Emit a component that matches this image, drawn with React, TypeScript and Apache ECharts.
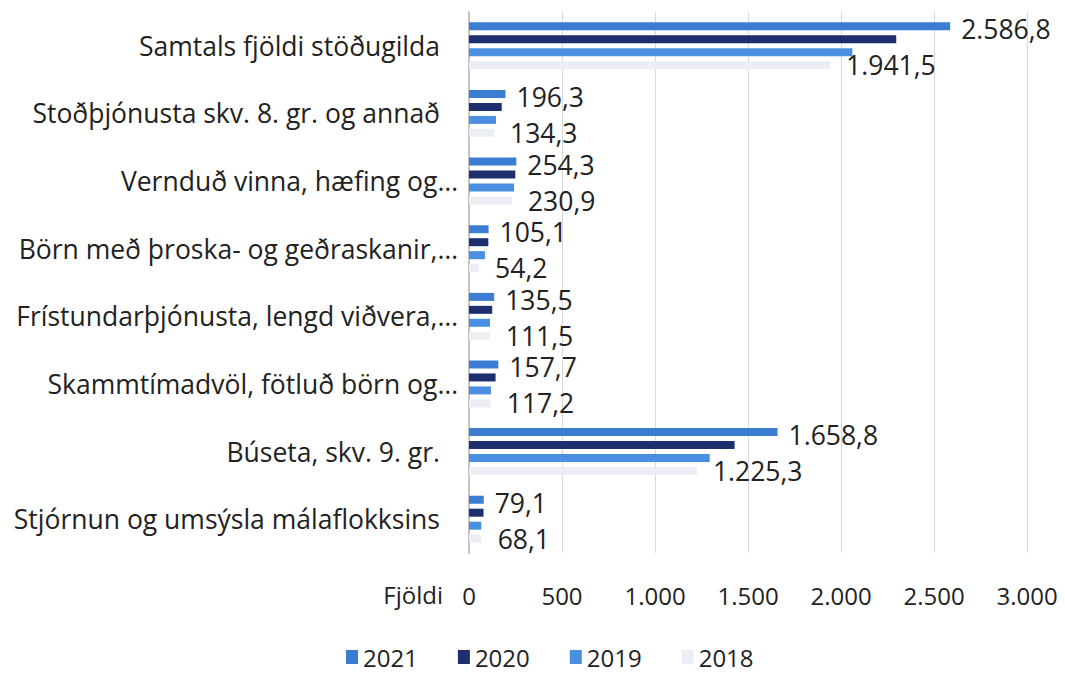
import React, { useEffect, useRef } from "react";
import * as echarts from "echarts";

const categories = [
  "Samtals fjöldi stöðugilda",
  "Stoðþjónusta skv. 8. gr. og annað",
  "Vernduð vinna, hæfing og…",
  "Börn með þroska- og geðraskanir,…",
  "Frístundarþjónusta, lengd viðvera,…",
  "Skammtímadvöl, fötluð börn og…",
  "Búseta, skv. 9. gr.",
  "Stjórnun og umsýsla málaflokksins",
];
const seriesNames = ["2021", "2020", "2019", "2018"];
const v2021 = [2586.8, 196.3, 254.3, 105.1, 135.5, 157.7, 1658.8, 79.1];
const v2020 = [2297, 176, 249, 104, 125, 143, 1428, 78];
const v2019 = [2061, 145, 242, 86, 113, 118, 1294, 66];
const v2018 = [1941.5, 134.3, 230.9, 54.2, 111.5, 117.2, 1225.3, 68.1];
const xTicks = [0, 500, 1000, 1500, 2000, 2500, 3000];
const axisTitle = "Fjöldi";

const FONT = "Open Sans";

function fmt(v: number, dec: number): string {
  const s = v.toFixed(dec);
  const [i, d] = s.split(".");
  const ip = i.replace(/\B(?=(\d{3})+(?!\d))/g, ".");
  return d !== undefined ? ip + "," + d : ip;
}

export default function App() {
  const ref = useRef<HTMLDivElement>(null);
  useEffect(() => {
    if (!ref.current) return;
    const chart = echarts.init(ref.current, null, { renderer: "svg" });
    const mk = (name: string, data: number[], color: string, label: any) => ({
      name,
      type: "bar",
      data,
      barWidth: 8,
      barGap: "62%",
      barCategoryGap: "30%",
      itemStyle: { color },
      label,
    });
    const labelStyle = {
      show: true,
      position: "right",
      fontFamily: FONT,
      fontSize: 26.5,
      lineHeight: 20,
      color: "#222",
      formatter: (p: any) => fmt(p.value, 1),
    };
    chart.setOption({
      animation: false,
      backgroundColor: "#fff",
      textStyle: { fontFamily: FONT },
      grid: { left: 469, right: 38, top: 12, bottom: 120, containLabel: false },
      legend: {
        top: 645,
        left: 346,
        padding: 0,
        itemWidth: 12,
        itemHeight: 14,
        itemGap: 40,
        icon: "rect",
        textStyle: {
          fontFamily: FONT,
          fontSize: 24,
          lineHeight: 24,
          color: "#222",
        },
        data: seriesNames,
      },
      xAxis: {
        type: "value",
        min: 0,
        max: 3000,
        interval: 500,
        axisLine: { show: false },
        axisTick: { show: false },
        splitLine: { show: true, lineStyle: { color: "#d9d9d9", width: 1 } },
        axisLabel: {
          margin: 30,
          fontFamily: FONT,
          fontSize: 24,
          lineHeight: 24,
          color: "#222",
          formatter: (v: number) => (xTicks.includes(v) ? fmt(v, 0) : ""),
        },
      },
      yAxis: {
        type: "category",
        data: categories,
        inverse: true,
        axisLine: { show: true, lineStyle: { color: "#c4c4c4", width: 2 } },
        axisTick: { show: false },
        axisLabel: {
          margin: 11,
          fontFamily: FONT,
          fontSize: 26.5,
          color: "#222",
          formatter: (v: string) => (v.endsWith("…") ? v : "{p|" + v + "}"),
          rich: {
            p: {
              fontFamily: FONT,
              fontSize: 26.5,
              color: "#222",
              padding: [0, 18, 0, 0],
            },
          },
        },
      },
      graphic: [
        {
          type: "text",
          right: 1065 - 443,
          top: 582,
          style: { text: axisTitle, fontFamily: FONT, fontSize: 24, lineHeight: 24, fill: "#222" },
        },
      ],
      series: [
        mk(seriesNames[0], v2021, "#3a7dd3", { ...labelStyle, offset: [6, 3] }),
        mk(seriesNames[1], v2020, "#1d2f6e", { show: false }),
        mk(seriesNames[2], v2019, "#4a8fe2", { show: false }),
        mk(seriesNames[3], v2018, "#eceef5", { ...labelStyle, offset: [11, 0] }),
      ],
    });
    return () => chart.dispose();
  }, []);
  return (
    <div
      ref={ref}
      style={{ position: "fixed", left: 0, top: 0, width: 1065, height: 673 }}
    />
  );
}
